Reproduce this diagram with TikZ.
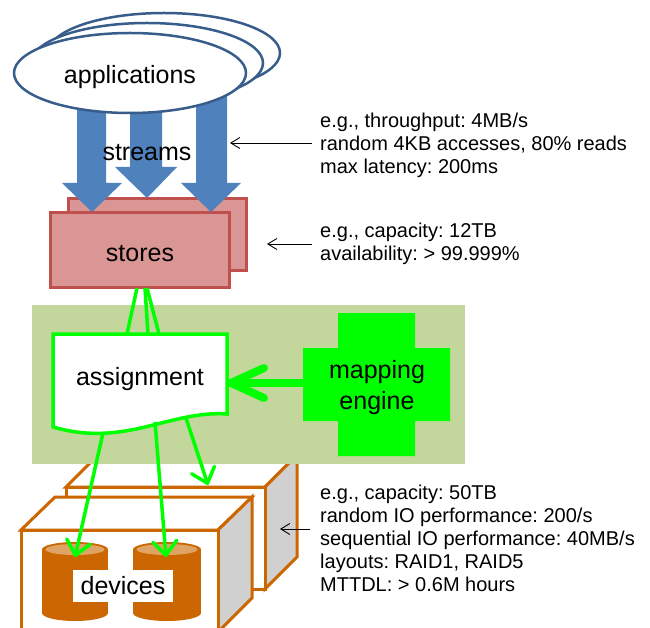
\documentclass[tikz,border=0pt]{standalone}
\usepackage{fontspec}
\setmainfont{Liberation Sans}
\usetikzlibrary{arrows.meta}
\frenchspacing

\definecolor{appblue}{HTML}{385D8A}
\definecolor{streamblue}{HTML}{4F81BD}
\definecolor{storefill}{HTML}{D99694}
\definecolor{storeline}{HTML}{C0504D}
\definecolor{panelgreen}{HTML}{C3D69B}
\definecolor{brightgreen}{HTML}{00FF00}
\definecolor{devorange}{HTML}{CC6600}
\definecolor{devlight}{HTML}{DFA464}
\definecolor{sidegray}{HTML}{D0D0D0}

\begin{document}
\begin{tikzpicture}[x=1pt,y=-1pt,
  label/.style={font=\fontsize{25}{31}\selectfont, inner sep=0pt, align=center},
  note/.style={font=\fontsize{20}{23}\selectfont, inner sep=0pt, align=left, anchor=west},
  callout/.style={draw=black, line width=0.9pt, -{Straight Barb[length=9pt,width=11pt]}},
  appring/.style={draw=appblue, fill=white, line width=2.5pt},
  storebox/.style={draw=storeline, fill=storefill, line width=3pt},
  streamarrow/.style={fill=streamblue},
  wire/.style={draw=brightgreen, line width=3.5pt},
  feed/.style={wire, -{Straight Barb[length=14pt,width=24pt,round]}},
  boxedge/.style={draw=devorange, line width=3pt, line join=miter},
]
\useasboundingbox (0,0) rectangle (650,628);
\clip (0,0) rectangle (650,628);

% ---- stores (two stacked boxes)
\draw[storebox] (68,199) rectangle (246,270);
\draw[storebox] (50,213) rectangle (229,287);
\node[label] (stores) at (140,254) {stores};

% ---- streams (three block arrows)
\fill[streamarrow] (77,95) -- (106,95) -- (106,183) -- (122,183) -- (92,212) -- (62,183) -- (77,183) -- cycle;
\fill[streamarrow] (130,95) -- (162,95) -- (162,167) -- (177,167) -- (147,198) -- (115,167) -- (130,167) -- cycle;
\fill[streamarrow] (196,95) -- (227,95) -- (227,183) -- (241,183) -- (211,212) -- (181,183) -- (196,183) -- cycle;
\node[label] (streams) at (147,153) {streams};

% ---- applications (three stacked ellipses)
\draw[appring] (164,53) ellipse [x radius=116, y radius=40];
\draw[appring] (147,63) ellipse [x radius=116, y radius=40];
\draw[appring] (130,73) ellipse [x radius=116, y radius=40];
\node[label] (apps) at (130,77) {applications};

% ---- back device enclosure
\filldraw[boxedge, fill=white] (66,487) -- (98,455) -- (297,455) -- (265,487) -- cycle;
\filldraw[boxedge, fill=sidegray] (265,487) -- (297,455) -- (297,557) -- (265,589) -- cycle;
\filldraw[boxedge, fill=white] (66,487) rectangle (265,589);

% ---- mapping panel
\fill[panelgreen] (32,305) rectangle (465,464);

% ---- front device enclosure
\filldraw[boxedge, fill=white] (21,530) -- (55,497) -- (252,497) -- (218,530) -- cycle;
\filldraw[boxedge, fill=sidegray] (218,530) -- (252,497) -- (252,598) -- (218,632) -- cycle;
\filldraw[boxedge, fill=white] (21,530) rectangle (218,632);

% ---- disks
\foreach \cx/\rx in {75/33, 167/34} {
  \fill[devorange] (\cx-\rx,549.5) rectangle (\cx+\rx,613);
  \fill[devorange] (\cx,613) ellipse [x radius=\rx, y radius=8];
  \fill[devorange] (\cx,549.5) ellipse [x radius=\rx, y radius=7.5];
  \fill[devlight] (\cx,549.5) ellipse [x radius=\rx-3.5, y radius=5.5];
}
\node[label, fill=white, minimum width=100pt, minimum height=32pt] (devices) at (123,586) {devices};
\coordinate (disk1) at (75,557);
\coordinate (disk2) at (166,557);
\coordinate (backbox) at (208,485);

% ---- mapping engine (cross)
\fill[brightgreen] (338,313) -- (415,313) -- (415,348) -- (450,348) -- (450,421) -- (415,421)
  -- (415,456) -- (338,456) -- (338,421) -- (303,421) -- (303,348) -- (338,348) -- cycle;
\node[label] (engine) at (377,388) {mapping\\engine};
\coordinate (engineedge) at (303,383);

% ---- stores to assignment
\coordinate (s1) at (137,288); \coordinate (a1) at (127,334);
\coordinate (s2) at (145,288); \coordinate (a2) at (148,334);
\coordinate (s3) at (147,288); \coordinate (a3) at (159,334);
\draw[wire] (s1) -- (a1);
\draw[wire] (s2) -- (a2);
\draw[wire] (s3) -- (a3);

% ---- assignment (document shape)
\filldraw[wire, fill=white] (53,334) -- (227,334) -- (227,414)
  .. controls (170,410) and (125,448) .. (53,427) -- cycle;
\node[label] (assign) at (140,379) {assignment};
\coordinate (assignedge) at (227,383);
\coordinate (b1) at (103,433);
\coordinate (b2) at (155,422);
\coordinate (b3) at (186,418);

\draw[brightgreen, line width=8pt, -{Straight Barb[length=33pt,width=30pt,round]}] (engineedge) -- (assignedge);

\draw[feed] (b1) -- (disk1);
\draw[feed] (b2) -- (disk2);
\draw[feed] (b3) -- (backbox);

% ---- annotations
\node[note] (n1) at (320,145) {e.g., throughput: 4MB/s\\random 4KB accesses, 80\% reads\\max latency: 200ms};
\node[note] (n2) at (320,243.5) {e.g., capacity: 12TB\\availability: > 99.999\%};
\node[note] (n3) at (320,538) {e.g., capacity: 50TB\\random IO performance: 200/s\\sequential IO performance: 40MB/s\\layouts: RAID1, RAID5\\MTTDL: > 0.6M hours};

\coordinate (t1) at (312,143); \coordinate (h1) at (230,143);
\coordinate (t2) at (312,244); \coordinate (h2) at (267,244);
\coordinate (t3) at (310,529); \coordinate (h3) at (280,529);
\draw[callout] (t1) -- (h1);
\draw[callout] (t2) -- (h2);
\draw[callout] (t3) -- (h3);
\end{tikzpicture}
\end{document}
